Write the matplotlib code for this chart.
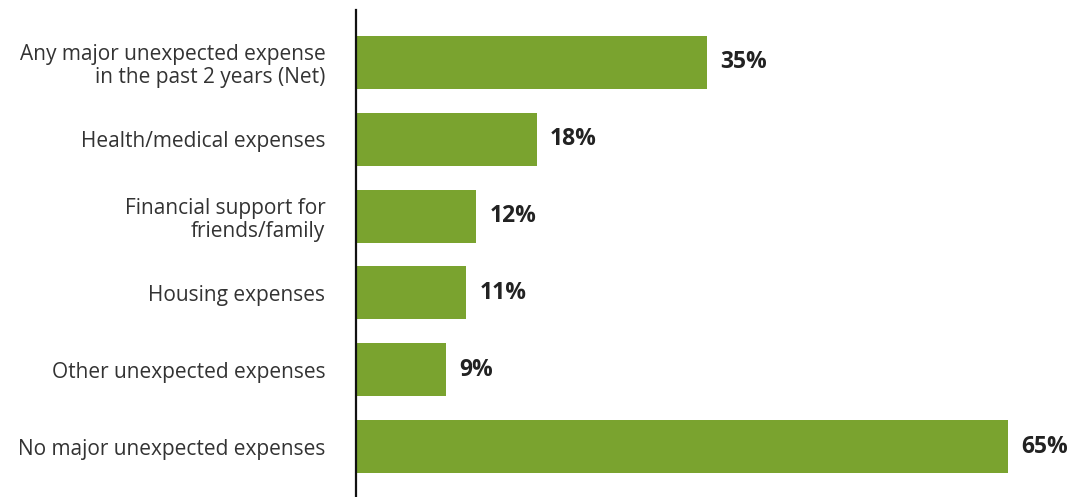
import matplotlib
matplotlib.use("Agg")
import matplotlib.pyplot as plt
import numpy as np

categories = ["Any major unexpected expense\nin the past 2 years (Net)",
              "Health/medical expenses",
              "Financial support for\nfriends/family",
              "Housing expenses",
              "Other unexpected expenses",
              "No major unexpected expenses"]
values = [35, 18, 12, 11, 9, 65]

plt.rcParams['font.family'] = ['Open Sans', 'DejaVu Sans']

fig = plt.figure(figsize=(10.72, 4.97), dpi=100)
ax = fig.add_axes([356/1072, 0, (1058-356)/1072, 487/497])

y = np.arange(len(values))
ax.barh(y, values, height=0.69, color='#7aa32f')
ax.set_ylim(len(values) - 1 + 0.656, -0.682)
ax.set_xlim(0, 70)

for i, v in enumerate(values):
    ax.text(v + 1.3, i, str(v) + "%", va='center', ha='left',
            fontsize=16.5, fontweight='bold', color='#222222')

ax.set_yticks(y)
ax.set_yticklabels(categories, fontsize=15, color='#333333', linespacing=1.15)
ax.tick_params(axis='y', length=0, pad=22)
ax.set_xticks([])
for s in ['top', 'right', 'bottom']:
    ax.spines[s].set_visible(False)
ax.spines['left'].set_linewidth(1.6)
ax.spines['left'].set_color('#111111')

fig.savefig("out.png", dpi=100)
